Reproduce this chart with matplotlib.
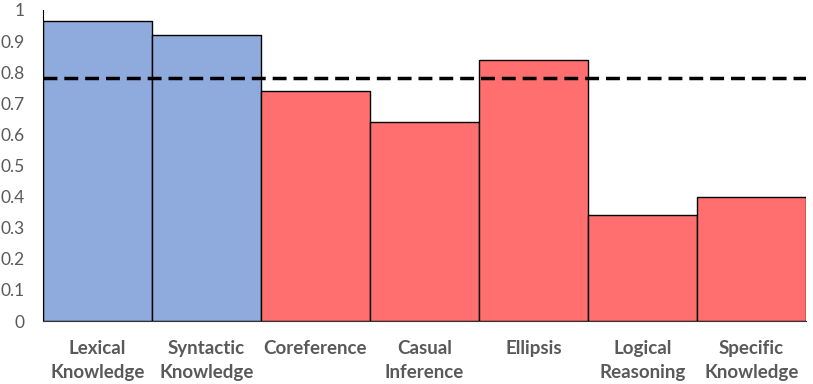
import numpy as np
import matplotlib.pyplot as plt

categories = ["Lexical\nKnowledge", "Syntactic\nKnowledge", "Coreference\n", "Casual\nInference",
              "Ellipsis\n", "Logical\nReasoning", "Specific\nKnowledge"]
scores = [0.965, 0.92, 0.74, 0.64, 0.84, 0.34, 0.40]
bar_colors = ["#8FAADC", "#8FAADC", "#FF6F6F", "#FF6F6F", "#FF6F6F", "#FF6F6F", "#FF6F6F"]
baseline = 0.78

plt.rcParams['font.family'] = ['Lato', 'DejaVu Sans']

fig = plt.figure(figsize=(8.13, 3.84), dpi=100)
ax = fig.add_axes([43/813, (384-321)/384, (806-43)/813, (321-10)/384])

x = np.arange(len(categories))
ax.bar(x, scores, width=1.0, color=bar_colors, edgecolor='black', linewidth=1.0)
ax.axhline(baseline, color='black', linestyle=(0, (4, 2)), linewidth=2.5)

ax.set_xlim(-0.5, len(categories) - 0.5)
ax.set_ylim(0, 1)
ax.set_yticks(np.arange(0, 1.01, 0.1))
ax.set_yticklabels(["0", "0.1", "0.2", "0.3", "0.4", "0.5", "0.6", "0.7", "0.8", "0.9", "1"])
ax.set_xticks(x)
ax.set_xticklabels(categories, fontweight='bold', linespacing=1.45)
ax.tick_params(axis='x', length=0, pad=14, labelsize=13.5, colors='#595959')
ax.tick_params(axis='y', length=0, pad=13, labelsize=12.5, colors='#595959')

for s in ['top', 'right']:
    ax.spines[s].set_visible(False)
ax.spines['left'].set_color('black')
ax.spines['bottom'].set_color('#333333')

fig.savefig('out.png', dpi=100)
